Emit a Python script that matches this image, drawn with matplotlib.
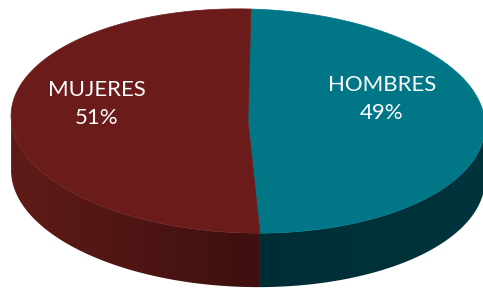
import numpy as np
import matplotlib.pyplot as plt
from matplotlib.patches import Polygon

categories = ["HOMBRES", "MUJERES"]
values = [49, 51]
top_colors = ["#007687", "#6b1c1a"]
side_light = [np.array([0, 52, 60]), np.array([96, 27, 24])]
side_dark = [np.array([0, 45, 53]), np.array([62, 16, 15])]

# ellipse geometry in pixel coordinates (y grows downward)
cx, cy, a, b, depth, tilt = 248, 121, 237, 112, 54, np.radians(1.5)


def pt(t, dy=0.0):
    X, Y = a * np.cos(t), -b * np.sin(t)
    x = X * np.cos(tilt) - Y * np.sin(tilt)
    y = X * np.sin(tilt) + Y * np.cos(tilt)
    return cx + x, cy + y + dy


fig = plt.figure(figsize=(4.83, 2.88), dpi=100)
ax = fig.add_axes([0, 0, 1, 1])
ax.set_xlim(0, 483)
ax.set_ylim(288, 0)
ax.axis("off")

fracs = np.array(values) / sum(values)
start = np.pi / 2
bounds = []
for f in fracs:
    end = start - f * 2 * np.pi
    bounds.append((end, start))
    start = end

# gradient factor per pixel column: light at the outer edges, dark at the front
xcol = np.arange(483) + 0.5
k = np.clip(np.abs((xcol - cx) / a), 0, 1)

# sides first (front half only)
for i, (t0, t1) in enumerate(bounds):
    ts = np.linspace(t0, t1, 400)
    ts = np.where(ts > np.pi, ts - 2 * np.pi, ts)
    ts = np.sort(ts)
    ts = ts[(ts >= -np.pi) & (ts <= 0)]
    if len(ts) < 2:
        continue
    xs, ys = pt(ts)
    xb, yb = pt(ts[::-1], depth)
    verts = list(zip(xs, ys)) + list(zip(xb, yb))
    side = Polygon(verts, closed=True, facecolor="none", edgecolor="none")
    ax.add_patch(side)
    row = side_dark[i][None, :] + (side_light[i] - side_dark[i])[None, :] * k[:, None]
    img = np.repeat(row[None, :, :], 288, axis=0) / 255
    im = ax.imshow(img, extent=(0, 483, 288, 0), aspect="auto", interpolation="bilinear")
    im.set_clip_path(side)

# tops
for i, (t0, t1) in enumerate(bounds):
    ts = np.linspace(t0, t1, 300)
    xs, ys = pt(ts)
    verts = [(cx, cy)] + list(zip(xs, ys))
    ax.add_patch(Polygon(verts, closed=True, facecolor=top_colors[i],
                         edgecolor=top_colors[i], linewidth=0.5))

label_pos = [(382, 99), (97, 104)]
for name, v, (lx, ly) in zip(categories, values, label_pos):
    ax.text(lx, ly, f"{name}\n{v}%", ha="center", va="center", color="white",
            fontsize=16, family="Lato", linespacing=1.55)

plt.savefig("out.png", dpi=100)
